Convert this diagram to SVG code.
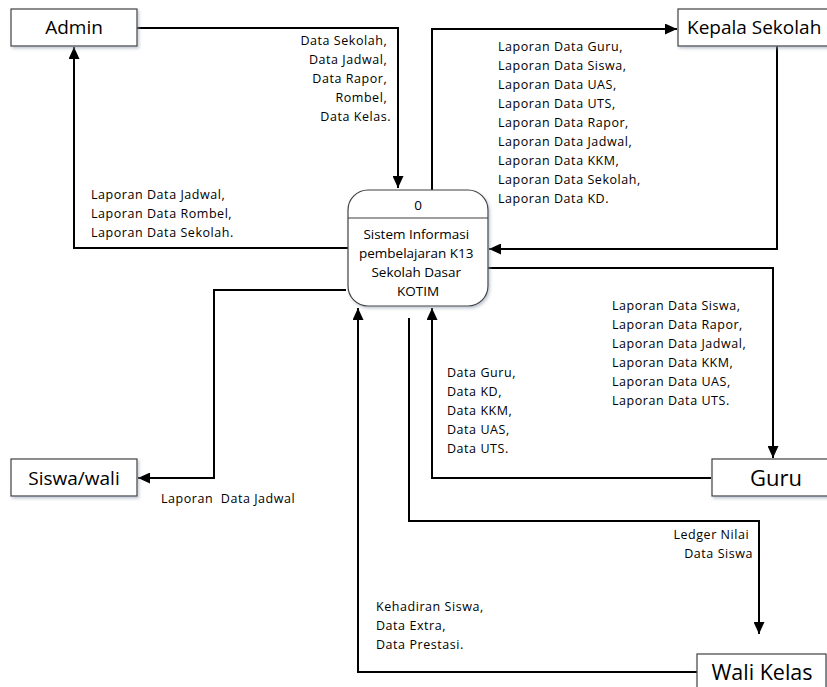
<svg xmlns="http://www.w3.org/2000/svg" width="827" height="687" viewBox="0 0 827 687">
<defs>
<marker id="ah" markerWidth="12" markerHeight="11" refX="12" refY="5.5" orient="auto" markerUnits="userSpaceOnUse">
<path d="M0,0 L12,5.5 L0,11 Z" fill="#000"/>
</marker>
<filter id="sh" x="-10%" y="-10%" width="130%" height="140%">
<feDropShadow dx="1.5" dy="2" stdDeviation="1.5" flood-color="#9aa4b5" flood-opacity="0.6"/>
</filter>
</defs>
<style>
.box{fill:#fff;stroke:#404040;stroke-width:1.2;filter:url(#sh)}
.ent{font-family:"Open Sans","Noto Sans","Liberation Sans",sans-serif;fill:#000}
.lbl{font-family:"Open Sans","Noto Sans","Liberation Sans",sans-serif;font-size:12.5px;letter-spacing:0.55px;fill:#000}
.ln{fill:none;stroke:#000;stroke-width:2}
</style>
<rect width="827" height="687" fill="#fff"/>
<g id="connectors">
<path class="ln" d="M137,28 H398 V188" marker-end="url(#ah)"/>
<path class="ln" d="M348,248 H74 V47" marker-end="url(#ah)"/>
<path class="ln" d="M432,190 V29 H677" marker-end="url(#ah)"/>
<path class="ln" d="M777,46 V249 H489" marker-end="url(#ah)"/>
<path class="ln" d="M488,268 H773 V458" marker-end="url(#ah)"/>
<path class="ln" d="M711,478 H432 V308" marker-end="url(#ah)"/>
<path class="ln" d="M346,290 H214 V478 H138" marker-end="url(#ah)"/>
<path class="ln" d="M409,318 V521 H759 V634" marker-end="url(#ah)"/>
<path class="ln" d="M697,672 H358 V308" marker-end="url(#ah)"/>
</g>
<g id="process">
<rect class="box" x="348" y="190" width="140" height="116" rx="20" ry="20"/>
<line x1="348" y1="218" x2="488" y2="218" stroke="#404040" stroke-width="1.2"/>
<text class="ent" x="418" y="210" font-size="13.5" text-anchor="middle">0</text>
<text class="ent" font-size="13.5" text-anchor="middle">
<tspan x="418" y="239">Sistem Informasi</tspan>
<tspan x="418" y="258">pembelajaran K13</tspan>
<tspan x="418" y="277">Sekolah Dasar</tspan>
<tspan x="418" y="296">KOTIM</tspan>
</text>
</g>
<g id="admin">
<rect class="box" x="11" y="9" width="126" height="37"/>
<text class="ent" x="74" y="34" font-size="19" text-anchor="middle">Admin</text>
</g>
<g id="kepala">
<rect class="box" x="678" y="9" width="160" height="37"/>
<text class="ent" x="687" y="34" font-size="19">Kepala Sekolah</text>
</g>
<g id="siswa">
<rect class="box" x="11" y="459" width="126" height="37"/>
<text class="ent" x="74" y="485" font-size="19" text-anchor="middle">Siswa/wali</text>
</g>
<g id="guru">
<rect class="box" x="712" y="459" width="125" height="37"/>
<text class="ent" x="776" y="486" font-size="22" text-anchor="middle">Guru</text>
</g>
<g id="walikelas">
<rect class="box" x="697" y="654" width="129" height="45"/>
<text class="ent" x="762" y="680" font-size="21.5" text-anchor="middle">Wali Kelas</text>
</g>
<g id="labels">
<text class="lbl" text-anchor="end">
<tspan x="391" y="45">Data Sekolah,</tspan>
<tspan x="391" y="64">Data Jadwal,</tspan>
<tspan x="391" y="83">Data Rapor,</tspan>
<tspan x="391" y="102">Rombel,</tspan>
<tspan x="391" y="121">Data Kelas.</tspan>
</text>
<text class="lbl">
<tspan x="498" y="51">Laporan Data Guru,</tspan>
<tspan x="498" y="70">Laporan Data Siswa,</tspan>
<tspan x="498" y="89">Laporan Data UAS,</tspan>
<tspan x="498" y="108">Laporan Data UTS,</tspan>
<tspan x="498" y="127">Laporan Data Rapor,</tspan>
<tspan x="498" y="146">Laporan Data Jadwal,</tspan>
<tspan x="498" y="165">Laporan Data KKM,</tspan>
<tspan x="498" y="184">Laporan Data Sekolah,</tspan>
<tspan x="498" y="203">Laporan Data KD.</tspan>
</text>
<text class="lbl">
<tspan x="91" y="199">Laporan Data Jadwal,</tspan>
<tspan x="91" y="218">Laporan Data Rombel,</tspan>
<tspan x="91" y="237">Laporan Data Sekolah.</tspan>
</text>
<text class="lbl">
<tspan x="612" y="310">Laporan Data Siswa,</tspan>
<tspan x="612" y="329">Laporan Data Rapor,</tspan>
<tspan x="612" y="348">Laporan Data Jadwal,</tspan>
<tspan x="612" y="367">Laporan Data KKM,</tspan>
<tspan x="612" y="386">Laporan Data UAS,</tspan>
<tspan x="612" y="405">Laporan Data UTS.</tspan>
</text>
<text class="lbl">
<tspan x="447" y="377">Data Guru,</tspan>
<tspan x="447" y="396">Data KD,</tspan>
<tspan x="447" y="415">Data KKM,</tspan>
<tspan x="447" y="434">Data UAS,</tspan>
<tspan x="447" y="453">Data UTS.</tspan>
</text>
<text class="lbl" x="161" y="503" xml:space="preserve">Laporan  Data Jadwal</text>
<text class="lbl" text-anchor="end">
<tspan x="753" y="539">Ledger Nilai</tspan>
<tspan x="753" y="558">Data Siswa</tspan>
</text>
<text class="lbl">
<tspan x="376" y="611">Kehadiran Siswa,</tspan>
<tspan x="376" y="630">Data Extra,</tspan>
<tspan x="376" y="649">Data Prestasi.</tspan>
</text>
</g>
</svg>
